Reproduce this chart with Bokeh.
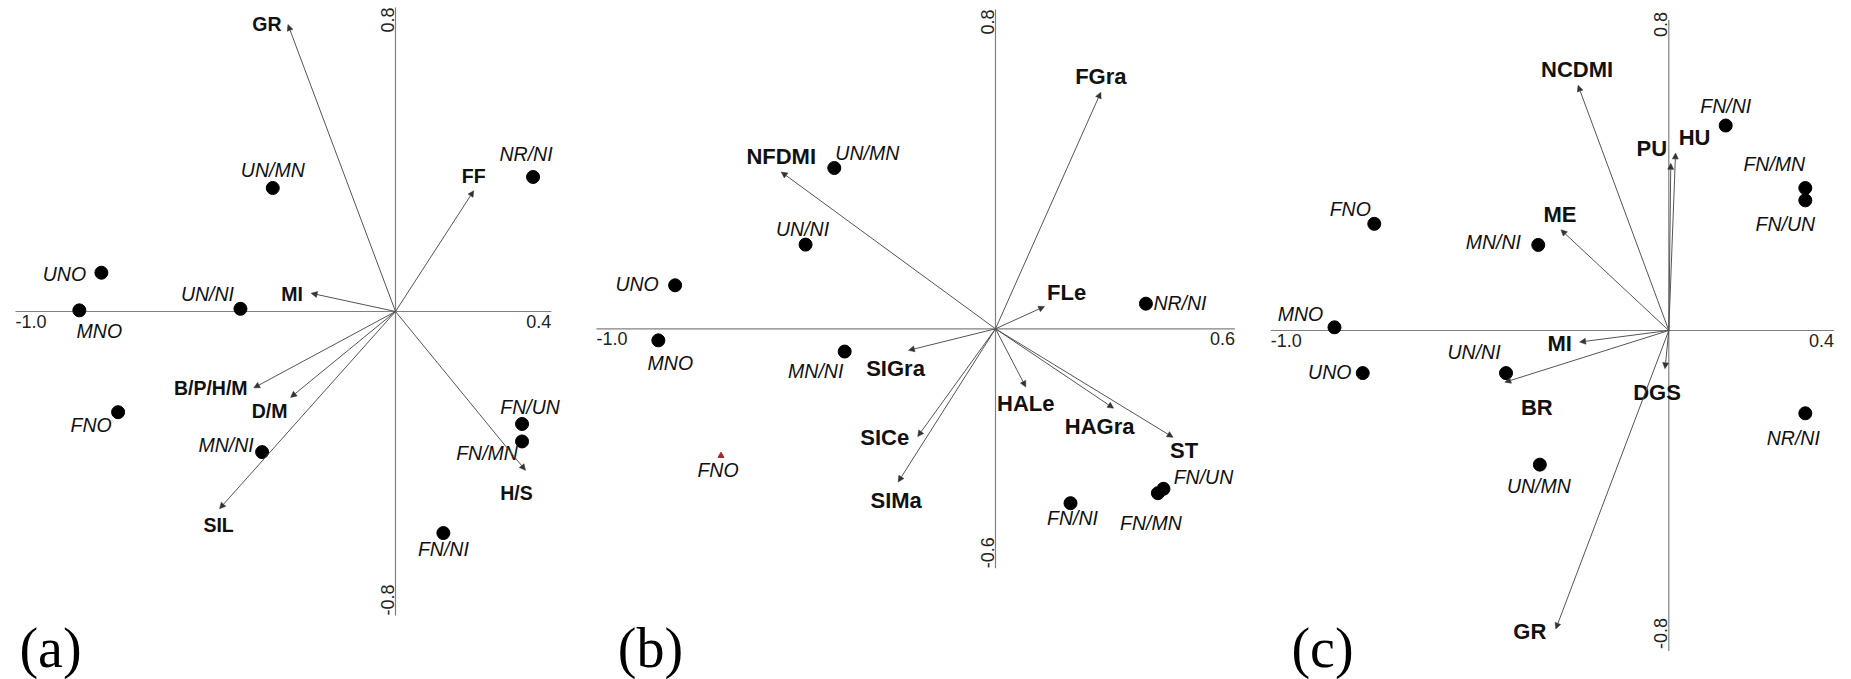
import math
from bokeh.plotting import figure
from bokeh.models import ColumnDataSource, Arrow, NormalHead, Range1d
from bokeh.layouts import row
from bokeh.embed import file_html
from bokeh.resources import INLINE
from bokeh.core.properties import value

# ---------------- panel (a) data ----------------
a_vars = ["GR", "FF", "MI", "B/P/H/M", "D/M", "SIL", "H/S"]
a_vars_x = [-0.283, 0.206, -0.222, -0.373, -0.276, -0.463, 0.342]
a_vars_y = [0.755, 0.318, 0.048, -0.201, -0.226, -0.519, -0.418]
a_sites = ["UN/MN", "NR/NI", "UNO", "MNO", "UN/NI", "FNO", "MN/NI", "FN/UN", "FN/MN", "FN/NI"]
a_sites_x = [-0.323, 0.362, -0.774, -0.832, -0.408, -0.730, -0.351, 0.333, 0.333, 0.126]
a_sites_y = [0.325, 0.354, 0.102, 0.003, 0.007, -0.265, -0.370, -0.296, -0.342, -0.583]
a_x_axis = [-1.0, 0.41]
a_y_axis = [-0.8, 0.8]
a_x_ticks = ["-1.0", "0.4"]
a_y_ticks = ["-0.8", "0.8"]

# ---------------- panel (b) data ----------------
b_vars = ["FGra", "NFDMI", "FLe", "SIGra", "SICe", "SIMa", "HALe", "HAGra", "ST"]
b_vars_x = [0.264, -0.537, 0.123, -0.218, -0.195, -0.244, 0.076, 0.296, 0.445]
b_vars_y = [0.593, 0.393, 0.056, -0.054, -0.270, -0.384, -0.146, -0.199, -0.272]
b_sites = ["UN/MN", "UN/NI", "UNO", "NR/NI", "MNO", "MN/NI", "FNO", "FN/UN", "FN/MN", "FN/NI"]
b_sites_x = [-0.404, -0.476, -0.803, 0.377, -0.845, -0.378, -0.688, 0.421, 0.407, 0.188]
b_sites_y = [0.403, 0.211, 0.109, 0.063, -0.029, -0.057, -0.318, -0.401, -0.412, -0.437]
b_x_axis = [-1.0, 0.6]
b_y_axis = [-0.6, 0.8]
b_x_ticks = ["-1.0", "0.6"]
b_y_ticks = ["-0.6", "0.8"]

# ---------------- panel (c) data ----------------
c_vars = ["NCDMI", "HU", "PU", "ME", "MI", "BR", "DGS", "GR"]
c_vars_x = [-0.228, 0.017, 0.005, -0.271, -0.224, -0.412, -0.0095, -0.284]
c_vars_y = [0.616, 0.446, 0.420, 0.253, -0.029, -0.130, -0.096, -0.750]
c_sites = ["FN/NI", "FN/MN", "FN/UN", "FNO", "MN/NI", "MNO", "UN/NI", "UNO", "NR/NI", "UN/MN"]
c_sites_x = [0.143, 0.343, 0.343, -0.740, -0.328, -0.840, -0.409, -0.769, 0.343, -0.324]
c_sites_y = [0.515, 0.358, 0.327, 0.268, 0.215, 0.008, -0.107, -0.107, -0.208, -0.337]
c_x_axis = [-1.0, 0.415]
c_y_axis = [-0.805, 0.78]
c_x_ticks = ["-1.0", "0.4"]
c_y_ticks = ["-0.8", "0.8"]

# ---------------- layout (label offsets in px: right, up) ----------------
a_vars_off = [(-21, 1), (0, 15), (-19, -1), (-43, 0), (-21, -14), (-1, -16), (-9, -23)]
a_sites_off = [(0, 18), (-7, 23), (-37, -1), (20, -21), (-33, 15), (-27, -13), (-36, 7), (8, 17), (-35, -12), (0, -16)]
b_vars_off = [(0, 16), (0, 15), (22, 14), (-13, -18), (-33, -1), (-2, -18), (0, -16), (-14, -18), (11, -13)]
b_sites_off = [(33, 15), (-3, 16), (-38, 1), (34, 1), (12, -23), (-29, -19), (-3, -14), (40, 12), (-7, -30), (2, -15)]
c_vars_off = [(-1, 16), (19, 15), (-19, 15), (-1, 15), (-20, -1), (32, -25), (-8, -24), (-26, -2)]
c_sites_off = [(0, 20), (-31, 24), (-20, -24), (-24, 15), (-45, 3), (-34, 13), (-32, 21), (-33, 1), (-12, -25), (-1, -21)]

FONT = value("Liberation Sans")
TOP, HEIGHT = 0, 679
AXIS_COLOR = "#808080"
ARROW_COLOR = "#555555"
TEXT_COLOR = "#111111"


def panel(vars_, vx, vy, voff, sites, sx, sy, soff, x_axis, y_axis, xt, yt,
          tag, geom, tag_pos, bold_size, special=None):
    L, W, ox, oy, s = geom
    p = figure(width=W, height=HEIGHT,
               x_range=Range1d((L - ox) / s, (L + W - ox) / s),
               y_range=Range1d((oy - TOP - HEIGHT) / s, (oy - TOP) / s),
               x_axis_location=None, y_axis_location=None,
               toolbar_location=None, output_backend="svg",
               min_border=0, outline_line_color=None,
               background_fill_color="white", border_fill_color="white")
    p.xgrid.visible = False
    p.ygrid.visible = False

    # axes lines
    p.segment(x0=[x_axis[0], 0], y0=[0, y_axis[0]], x1=[x_axis[1], 0], y1=[0, y_axis[1]],
              line_color=AXIS_COLOR, line_width=1.2)
    # axis end labels
    common = dict(text_font=FONT, text_font_size="18px", text_color="#222222")
    p.text(x=[x_axis[0]], y=[0], text=[xt[0]], text_align="left", text_baseline="top",
           y_offset=3, **common)
    p.text(x=[x_axis[1]], y=[0], text=[xt[1]], text_align="right", text_baseline="top",
           y_offset=3, **common)
    p.text(x=[0], y=[float(yt[1])], text=[yt[1]], angle=math.pi / 2, text_align="right",
           text_baseline="bottom", x_offset=-2, **common)
    p.text(x=[0], y=[float(yt[0])], text=[yt[0]], angle=math.pi / 2, text_align="left",
           text_baseline="bottom", x_offset=-2, **common)

    # arrows for variables
    n = len(vars_)
    asrc = ColumnDataSource(dict(x0=[0.0] * n, y0=[0.0] * n, x1=vx, y1=vy))
    p.add_layout(Arrow(end=NormalHead(size=6, fill_color="#333333", line_color="#333333",
                                      line_width=0.5),
                       x_start="x0", y_start="y0", x_end="x1", y_end="y1", source=asrc,
                       line_color=ARROW_COLOR, line_width=1))
    vsrc = ColumnDataSource(dict(x=vx, y=vy, text=vars_,
                                 xo=[o[0] for o in voff], yo=[-o[1] for o in voff]))
    p.text(x="x", y="y", text="text", x_offset="xo", y_offset="yo", source=vsrc,
           text_align="center", text_baseline="middle", text_font=FONT,
           text_font_style="bold", text_font_size=bold_size, text_color=TEXT_COLOR)

    # site points
    markers, sizes, colors = [], [], []
    for name in sites:
        if special and name in special:
            m, sz, col = special[name]
        else:
            m, sz, col = "circle", 13, "black"
        markers.append(m)
        sizes.append(sz)
        colors.append(col)
    ssrc = ColumnDataSource(dict(x=sx, y=sy, text=sites, marker=markers, size=sizes,
                                 color=colors, xo=[o[0] for o in soff],
                                 yo=[-o[1] for o in soff]))
    p.scatter(x="x", y="y", marker="marker", size="size", fill_color="color",
              line_color="color", source=ssrc)
    p.text(x="x", y="y", text="text", x_offset="xo", y_offset="yo", source=ssrc,
           text_align="center", text_baseline="middle", text_font=FONT,
           text_font_style="italic", text_font_size="19.5px", text_color=TEXT_COLOR)

    # panel tag
    px, py = tag_pos
    p.text(x=[(px - ox) / s], y=[(oy - py) / s], text=[tag],
           text_font=value("Liberation Serif"), text_font_size="56px",
           text_align="center", text_baseline="middle", text_color="black")
    return p


pa = panel(a_vars, a_vars_x, a_vars_y, a_vars_off, a_sites, a_sites_x, a_sites_y, a_sites_off,
           a_x_axis, a_y_axis, a_x_ticks, a_y_ticks, "(a)",
           (0, 590, 395, 311, 380.0), (50, 647), "19.5px")
pb = panel(b_vars, b_vars_x, b_vars_y, b_vars_off, b_sites, b_sites_x, b_sites_y, b_sites_off,
           b_x_axis, b_y_axis, b_x_ticks, b_y_ticks, "(b)",
           (590, 660, 995, 328.3, 399.0), (650, 647), "22px",
           special={"FNO": ("triangle", 6, "#9b2d2d")})
pc = panel(c_vars, c_vars_x, c_vars_y, c_vars_off, c_sites, c_sites_x, c_sites_y, c_sites_off,
           c_x_axis, c_y_axis, c_x_ticks, c_y_ticks, "(c)",
           (1250, 601, 1668.3, 330, 398.0), (1322, 647), "22px")

layout = row(pa, pb, pc)
open("out.html", "w").write(file_html(layout, INLINE))
